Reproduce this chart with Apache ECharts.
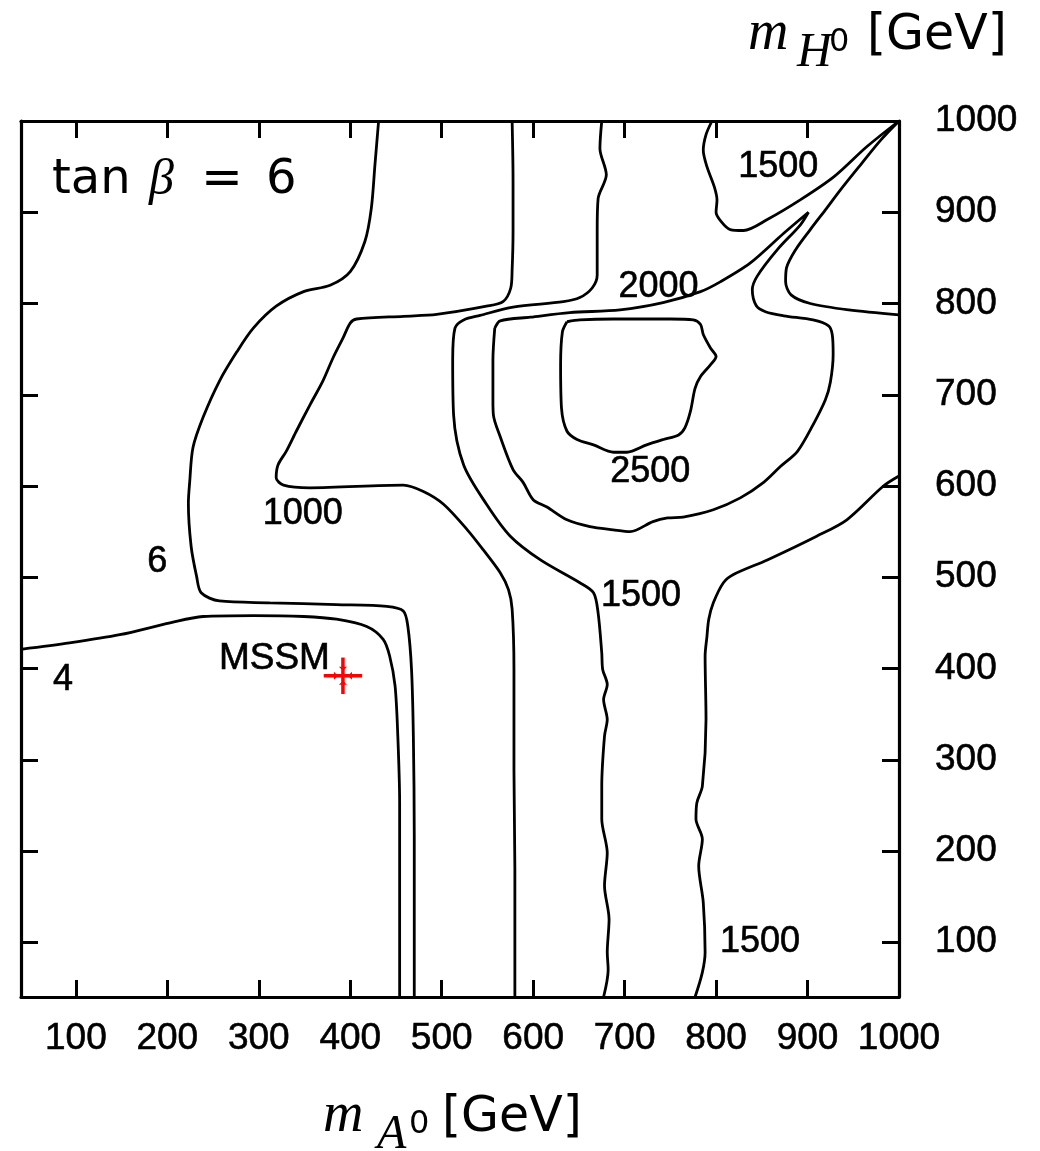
<!DOCTYPE html>
<html>
<head>
<meta charset="utf-8">
<script src="https://cdn.jsdelivr.net/npm/echarts@6/dist/echarts.min.js"></script>
<style>
  html, body { margin: 0; padding: 0; background: #fff; }
  #chart { width: 1040px; height: 1151px; }
</style>
</head>
<body>
<div id="chart"></div>
<script>
// Axis ranges (GeV) and tick marks
const axisMin = 40;
const axisMax = 1000;
const tickValues = [100, 200, 300, 400, 500, 600, 700, 800, 900, 1000];

// Contour lines in the (m_A0, m_H0) plane, as [m_A0, m_H0] points
const contour4 = [[40,421],[93,428],[148,437],[203,450],[239,457],[294,458],[349,457],[385,454],[418,446],[436,432],[443,414],[449,381],[452,326],[454,253],[454,144],[454,40]];

const contour6 = [[431,1000],[427,952],[423,904],[416,868],[400,835],[378,820],[349,813],[319,797],[294,773],[276,747],[257,715],[239,675],[228,642],[224.5,605],[223,581],[226,534],[232,501],[237,483],[257,474],[312,472],[385,470],[440,468],[458,463],[463,446],[467,399],[469,326],[470,216],[470,40]];

const contour1000 = [[577,1000],[578,935],[578,879],[577,837],[575.5,817],[567,802],[549,797],[494.5,788],[458,786],[407,783],[400,778.5],[392,762],[381,740],[370,715],[356,689],[341,660],[330,638],[321,623],[319,609],[327,601],[356,598],[458,601],[480,594],[502,580],[528,552],[545.5,530],[564,505],[573,486.5],[577,465],[579,399],[579,289],[580,180],[580,40]];

const contour1500Left = [[675,1000],[673,970],[680,941],[671,915],[670,879],[670,831],[664.5,817],[651,806.5],[633,802],[578,796],[542,787],[524,782],[514.5,773],[512,738],[513,678],[524,623],[549,580],[575,545],[608,519],[651,494],[666,483],[671,461],[675,417],[676,399],[681,382.5],[677,366],[681,344],[678,326],[675,271],[675,235],[681,198],[678,162],[683,125],[681,89],[682,70],[677,40]];

const contour1500Right = [[1000,611],[983,600],[943,563],[910,545],[856,519],[819,503],[808,494],[797,472],[792,454],[790,435],[788,413.5],[789,344],[785,271],[779,253],[778,235],[785,213],[781,183.5],[786,143.5],[788,89],[785,67],[777,40]];

const contour1500Top = [[795.5,1000],[789,985],[786,968],[790,950],[798,928],[801,913.5],[800,900],[805,890.5],[815.5,881],[830,880],[856,892],[892,913.5],[929,939],[965,972],[1000,1000]];

const contour1500Wedge = [[1000,1000],[980,979],[958,952],[936,924.5],[919.5,902.6],[903,881],[887,859],[877,839],[876,824],[882,809.5],[903,800],[945,793],[1000,787.6]];

const contour2000 = [[558,773],[556,738],[556,694.5],[556.5,678],[564,654],[578,618],[589,604],[600,585],[615,577],[637,563],[662,555.5],[687.5,552],[706,550],[731,561],[747,565],[764,566],[797,574],[826.5,587],[852,604],[870,621],[889,638],[906,667],[919.5,694.5],[925,714],[928,744],[927,766],[923,775.5],[906,782],[874,786.5],[854,791],[844,797.5],[839.6,815],[845,830],[867,859],[892,886],[901,900],[874,877],[837.5,844.5],[805,824],[783,813],[742,801],[695,793],[640,790],[597,785],[564,781],[558,773]];

const contour2500 = [[637,780],[651,782],[688,783],[750,783],[775,782],[783,777],[786,766],[794,751],[800,742],[794,733],[783,720],[777,707],[772,682],[766,664],[759,656],[742.5,651],[724,645],[702.5,637],[688,637],[666,645],[648,651],[637,660],[631,685],[630,733],[632,769],[637,780]];

// Contour level labels: [text, m_A0, m_H0]
const contourLabels = [
  ['1500', 868, 949],
  ['2000', 737, 818],
  ['2500', 728, 615],
  ['1000', 348, 569],
  ['6', 189, 517],
  ['1500', 718, 479],
  ['4', 86, 387],
  ['1500', 848, 100]
];

// MSSM reference point: [m_A0, m_H0, error m_A0, error m_H0]
const mssmPoint = [392, 392, 21, 20];
const mssmName = 'MSSM';

const contours = [contour4, contour6, contour1000, contour1500Left, contour1500Right,
                  contour1500Top, contour1500Wedge, contour2000, contour2500];

const chart = echarts.init(document.getElementById('chart'), null, { renderer: 'canvas' });

const frameLine = { show: true, onZero: false, lineStyle: { color: '#000', width: 3.2 } };
const frameTick = { show: true, inside: true, length: 17, customValues: tickValues,
                    lineStyle: { color: '#000', width: 3 } };
const tickFont = { fontFamily: 'Liberation Sans', fontSize: 37, color: '#000',
                   textBorderColor: '#000', textBorderWidth: 0.6,
                   formatter: function (v) { return String(v); } };
const markFont = { fontFamily: 'Liberation Sans', fontSize: 36, color: '#000',
                   textBorderColor: '#000', textBorderWidth: 0.6, opacity: 1 };

const sans = 'DejaVu Sans';
const serif = 'Liberation Serif';

function piece(text, x, y, size, family, italic) {
  return {
    type: 'text', x: x, y: y, silent: true,
    style: { text: text, fontSize: size, fontFamily: family,
             fontStyle: italic ? 'italic' : 'normal', fill: '#000',
             align: 'left', verticalAlign: 'middle' }
  };
}

const option = {
  animation: false,
  backgroundColor: '#fff',
  grid: { left: 21, right: 141, top: 121, bottom: 154, containLabel: false },
  xAxis: [
    { type: 'value', min: axisMin, max: axisMax, position: 'bottom',
      axisLine: frameLine, axisTick: frameTick,
      axisLabel: Object.assign({ customValues: tickValues, margin: 23 }, tickFont),
      splitLine: { show: false } },
    { type: 'value', min: axisMin, max: axisMax, position: 'top',
      axisLine: frameLine, axisTick: frameTick, axisLabel: { show: false },
      splitLine: { show: false } }
  ],
  yAxis: [
    { type: 'value', min: axisMin, max: axisMax, position: 'right',
      axisLine: frameLine, axisTick: frameTick,
      axisLabel: Object.assign({ customValues: tickValues, margin: 36, align: 'left' }, tickFont),
      splitLine: { show: false } },
    { type: 'value', min: axisMin, max: axisMax, position: 'left',
      axisLine: frameLine, axisTick: frameTick, axisLabel: { show: false },
      splitLine: { show: false } }
  ],
  graphic: [
    // tan(beta) annotation
    piece('tan', 52, 181, 48, sans, false),
    piece('\u03b2', 149, 181, 50, serif, true),
    piece('=', 201, 181, 50, sans, false),
    piece('6', 266, 181, 48, sans, false),
    // vertical axis title
    piece('m', 748, 34, 56, serif, true),
    piece('H', 797, 53, 48, serif, true),
    piece('0', 829, 43, 32, sans, false),
    piece('[GeV]', 867, 36, 49, sans, false),
    // horizontal axis title
    piece('m', 323, 1116, 56, serif, true),
    piece('A', 377, 1135, 48, serif, true),
    piece('0', 409, 1125, 32, sans, false),
    piece('[GeV]', 442, 1118, 49, sans, false)
  ],
  series: contours.map(function (c) {
    return {
      type: 'line', data: c, xAxisIndex: 0, yAxisIndex: 0,
      showSymbol: false, symbol: 'none', smooth: 0.3, silent: true,
      lineStyle: { color: '#000', width: 2.8 }
    };
  }).concat([
    {
      type: 'scatter', xAxisIndex: 0, yAxisIndex: 0, silent: true,
      symbolSize: 0, itemStyle: { opacity: 1 },
      data: contourLabels.map(function (l) { return { name: l[0], value: [l[1], l[2]] }; }),
      label: Object.assign({ show: true, position: 'inside', formatter: '{b}' }, markFont)
    },
    {
      type: 'scatter', xAxisIndex: 0, yAxisIndex: 0, silent: true,
      symbolSize: 0, itemStyle: { opacity: 1 },
      data: [{ name: mssmName, value: [mssmPoint[0], mssmPoint[1]] }],
      label: Object.assign({ show: true, position: 'left', distance: 13, offset: [0, -17],
                             formatter: '{b}' }, markFont, { fontSize: 37 })
    },
    {
      type: 'custom', xAxisIndex: 0, yAxisIndex: 0, silent: true,
      data: [mssmPoint],
      renderItem: function (params, api) {
        const x = api.value(0), y = api.value(1), ex = api.value(2), ey = api.value(3);
        const c = api.coord([x, y]);
        const l = api.coord([x - ex, y]);
        const r = api.coord([x + ex, y]);
        const t = api.coord([x, y + ey]);
        const b = api.coord([x, y - ey]);
        const red = '#ff0000';
        const s = 4, d = 9;
        function tri(p) { return { type: 'polygon', shape: { points: p }, style: { fill: red } }; }
        return {
          type: 'group',
          children: [
            { type: 'line', shape: { x1: l[0], y1: l[1], x2: r[0], y2: r[1] }, style: { stroke: red, lineWidth: 3.5 } },
            { type: 'line', shape: { x1: t[0], y1: t[1], x2: b[0], y2: b[1] }, style: { stroke: red, lineWidth: 3.5 } },
            tri([[c[0] - d, c[1] - s], [c[0] - d, c[1] + s], [c[0] - d + s, c[1]]]),
            tri([[c[0] + d, c[1] - s], [c[0] + d, c[1] + s], [c[0] + d - s, c[1]]]),
            tri([[c[0] - s, c[1] - d], [c[0] + s, c[1] - d], [c[0], c[1] - d + s]]),
            tri([[c[0] - s, c[1] + d], [c[0] + s, c[1] + d], [c[0], c[1] + d - s]])
          ]
        };
      }
    }
  ])
};

chart.setOption(option);
</script>
</body>
</html>
